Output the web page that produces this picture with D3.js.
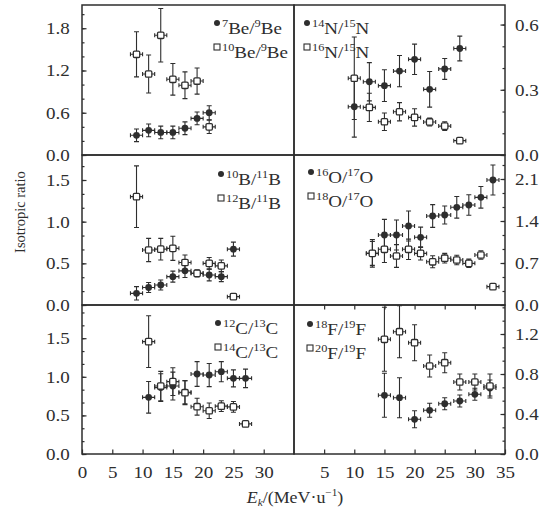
<!DOCTYPE html>
<html>
<head>
<meta charset="utf-8">
<script src="https://cdn.jsdelivr.net/npm/d3@7/dist/d3.min.js"></script>
<style>
body { margin: 0; background: #fff; }
svg, svg text { font-family: 'Liberation Serif', serif; }
</style>
</head>
<body>
<svg id="chart" width="551" height="508"></svg>
<script>
// beam energies (MeV/u) and ratios
var E_BE = [9, 11, 13, 15, 17, 19, 21];
var BE7 = [0.28, 0.35, 0.32, 0.32, 0.38, 0.52, 0.60];
var BE7_ERR = [0.09, 0.09, 0.09, 0.09, 0.09, 0.09, 0.10];
var BE10 = [1.43, 1.15, 1.70, 1.075, 0.99, 1.05, 0.40];
var BE10_ERR = [0.32, 0.27, 0.38, 0.225, 0.19, 0.185, 0.095];

var E_N = [10, 12.5, 15, 17.5, 20, 22.5, 25, 27.5];
var N14 = [0.222, 0.337, 0.319, 0.386, 0.44, 0.302, 0.396, 0.49];
var N14_ERR = [0.14, 0.088, 0.073, 0.072, 0.07, 0.082, 0.048, 0.057];
var N16 = [0.353, 0.219, 0.153, 0.199, 0.173, 0.152, 0.133, 0.066];
var N16_ERR = [0.19, 0.065, 0.04, 0.042, 0.04, 0.018, 0.02, 0.01];

var E_B = [9, 11, 13, 15, 17, 19, 21, 23, 25];
var B10 = [0.14, 0.21, 0.24, 0.34, 0.41, 0.38, 0.36, 0.34, 0.67];
var B10_ERR = [0.08, 0.06, 0.06, 0.066, 0.08, 0.04, 0.07, 0.06, 0.084];
var B12 = [1.30, 0.66, 0.67, 0.68, 0.51, 0.38, 0.50, 0.47, 0.10];
var B12_ERR = [0.37, 0.14, 0.13, 0.145, 0.09, 0.04, 0.07, 0.07, 0.012];

var E_O = [13, 15, 17, 19, 21, 23, 25, 27, 29, 31, 33];
var O16 = [0.86, 1.167, 1.167, 1.317, 1.128, 1.483, 1.50, 1.628, 1.667, 1.794, 2.083];
var O16_ERR = [0.2, 0.26, 0.25, 0.25, 0.17, 0.19, 0.15, 0.18, 0.17, 0.18, 0.25];
var O18 = [0.861, 0.928, 0.817, 0.928, 0.86, 0.72, 0.78, 0.75, 0.694, 0.833, 0.306];
var O18_ERR = [0.23, 0.22, 0.19, 0.17, 0.11, 0.1, 0.08, 0.08, 0.07, 0.07, 0.03];

var E_C = [11, 13, 15, 17, 19, 21, 23, 25, 27];
var C12 = [0.734, 0.86, 0.88, 0.80, 1.036, 1.023, 1.066, 0.98, 0.98];
var C12_ERR = [0.205, 0.18, 0.18, 0.15, 0.16, 0.15, 0.13, 0.11, 0.12];
var C14 = [1.455, 0.88, 0.937, 0.794, 0.613, 0.56, 0.62, 0.61, 0.39];
var C14_ERR = [0.335, 0.19, 0.18, 0.155, 0.11, 0.1, 0.07, 0.07, 0.03];

var E_F = [15, 17.5, 20, 22.5, 25, 27.5, 30, 32.5];
var F18 = [0.587, 0.563, 0.347, 0.437, 0.503, 0.53, 0.597, 0.66];
var F18_ERR = [0.22, 0.2, 0.085, 0.07, 0.06, 0.06, 0.06, 0.08];
var F20 = [1.147, 1.223, 1.113, 0.88, 0.913, 0.72, 0.72, 0.68];
var F20_ERR = [0.32, 0.26, 0.18, 0.11, 0.1, 0.08, 0.08, 0.12];

var X_ERR = 1;

// tick labels
var X_TICKS_LEFT = [0, 5, 10, 15, 20, 25, 30];
var X_TICKS_RIGHT = [5, 10, 15, 20, 25, 30, 35];
var BE_TICKS = [0, 0.6, 1.2, 1.8];
var N_TICKS = [0, 0.3, 0.6];
var B_TICKS = [0, 0.5, 1.0, 1.5];
var O_TICKS = [0, 0.7, 1.4, 2.1];
var C_TICKS = [0, 0.5, 1.0, 1.5];
var F_TICKS = [0, 0.4, 0.8, 1.2];

// legend labels: [mass, element, mass, element]
var LBL_BE7 = ["7", "Be/", "9", "Be"], LBL_BE10 = ["10", "Be/", "9", "Be"];
var LBL_N14 = ["14", "N/", "15", "N"], LBL_N16 = ["16", "N/", "15", "N"];
var LBL_B10 = ["10", "B/", "11", "B"], LBL_B12 = ["12", "B/", "11", "B"];
var LBL_O16 = ["16", "O/", "17", "O"], LBL_O18 = ["18", "O/", "17", "O"];
var LBL_C12 = ["12", "C/", "13", "C"], LBL_C14 = ["14", "C/", "13", "C"];
var LBL_F18 = ["18", "F/", "19", "F"], LBL_F20 = ["20", "F/", "19", "F"];

var INK = "#2e2e2e";
var FONT = "'Liberation Serif', serif";
var FS = 17, SX = 1.12;
var COLS = [[82, 294], [294, 505]];
var ROWS = [[5, 155], [155, 305], [305, 454]];

var panels = [
  {col: 0, row: 0, ymax: 2.13, ticks: BE_TICKS, ex: E_BE, f: BE7, fe: BE7_ERR, o: BE10, oe: BE10_ERR, names: [LBL_BE7, LBL_BE10], leg: [217, 23]},
  {col: 1, row: 0, ymax: 0.69, ticks: N_TICKS, ex: E_N, f: N14, fe: N14_ERR, o: N16, oe: N16_ERR, names: [LBL_N14, LBL_N16], leg: [307, 23]},
  {col: 0, row: 1, ymax: 1.8, ticks: B_TICKS, ex: E_B, f: B10, fe: B10_ERR, o: B12, oe: B12_ERR, names: [LBL_B10, LBL_B12], leg: [221, 174]},
  {col: 1, row: 1, ymax: 2.5, ticks: O_TICKS, ex: E_O, f: O16, fe: O16_ERR, o: O18, oe: O18_ERR, names: [LBL_O16, LBL_O18], leg: [311, 172]},
  {col: 0, row: 2, ymax: 1.93, ticks: C_TICKS, ex: E_C, f: C12, fe: C12_ERR, o: C14, oe: C14_ERR, names: [LBL_C12, LBL_C14], leg: [218, 323]},
  {col: 1, row: 2, ymax: 1.49, ticks: F_TICKS, ex: E_F, f: F18, fe: F18_ERR, o: F20, oe: F20_ERR, names: [LBL_F18, LBL_F20], leg: [310, 324], topTicks: true}
];

var svg = d3.select("#chart").attr("font-family", FONT);

panels.forEach(function(p) {
  var cx = COLS[p.col], ry = ROWS[p.row];
  var x = d3.scaleLinear().domain([0, 35]).range(cx);
  var y = d3.scaleLinear().domain([0, p.ymax]).range([ry[1], ry[0]]);
  var g = svg.append("g");

  // y axis, major + minor ticks pointing inward
  var major = p.ticks[1] - p.ticks[0];
  var minorVals = d3.range(0, p.ymax, major / 3);
  var yAxis = p.col === 0 ? d3.axisLeft(y) : d3.axisRight(y);
  var yMinor = p.col === 0 ? d3.axisLeft(y) : d3.axisRight(y);
  var ax = p.col === 0 ? cx[0] : cx[1];

  g.append("g")
    .attr("transform", "translate(" + ax + ",0)")
    .call(yMinor.tickValues(minorVals).tickSize(-2.5).tickFormat(""))
    .call(styleAxis);

  g.append("g")
    .attr("transform", "translate(" + ax + ",0)")
    .call(yAxis.tickValues(p.ticks).tickSize(-4.5).tickPadding(p.col === 0 ? 11 : 9).tickFormat(d3.format(".1f")))
    .call(styleAxis);

  if (p.row === 2) {
    g.append("g")
      .attr("transform", "translate(0," + ry[1] + ")")
      .call(d3.axisBottom(x).tickValues(p.col === 0 ? X_TICKS_LEFT : X_TICKS_RIGHT)
        .tickSize(-4.5).tickPadding(12).tickFormat(d3.format("d")))
      .call(styleAxis);
  }
  if (p.topTicks) {
    g.append("g")
      .attr("transform", "translate(0," + ry[0] + ")")
      .call(d3.axisTop(x).tickValues(X_TICKS_RIGHT.slice(0, 6)).tickSize(-4.5).tickFormat(""))
      .call(styleAxis);
  }

  g.append("rect")
    .attr("x", cx[0]).attr("y", ry[0])
    .attr("width", cx[1] - cx[0]).attr("height", ry[1] - ry[0])
    .attr("fill", "none").attr("stroke", INK).attr("stroke-width", 1.5);

  drawSeries(g, x, y, p.ex, p.f, p.fe, "filled");
  drawSeries(g, x, y, p.ex, p.o, p.oe, "open");

  // legend
  p.names.forEach(function(nm, i) {
    var my = p.leg[1] + i * 24;
    if (i === 0) {
      g.append("circle").attr("cx", p.leg[0]).attr("cy", my).attr("r", 3).attr("fill", INK);
    } else {
      g.append("rect").attr("x", p.leg[0] - 3).attr("y", my - 3).attr("width", 6).attr("height", 6)
        .attr("fill", "#fff").attr("stroke", INK).attr("stroke-width", 1.1);
    }
    var t = g.append("g")
      .attr("transform", "translate(" + (p.leg[0] + 5) + "," + (my + 11) + ") scale(" + SX + ",1)")
      .append("text").attr("fill", INK).attr("font-family", FONT).attr("font-size", FS);
    t.append("tspan").attr("font-size", 11).attr("dy", -7).text(nm[0]);
    t.append("tspan").attr("dy", 7).text(nm[1]);
    t.append("tspan").attr("font-size", 11).attr("dy", -7).text(nm[2]);
    t.append("tspan").attr("dy", 7).text(nm[3]);
  });
});

function styleAxis(g) {
  g.select(".domain").remove();
  g.attr("color", INK).attr("font-family", FONT).attr("font-size", FS);
  g.selectAll("line").attr("stroke-width", 1.2);
  g.selectAll("text").attr("fill", INK).attr("transform", "scale(" + SX + ",1)");
}

function drawSeries(g, x, y, xs, ys, es, kind) {
  var pts = xs.map(function(d, i) { return {e: d, v: ys[i], err: es[i]}; });
  var bars = g.append("g").attr("stroke", INK).attr("stroke-width", 1.1).attr("fill", "none");
  bars.selectAll("path")
    .data(pts)
    .enter()
    .append("path")
    .attr("d", function(d) {
      var px = x(d.e), py = y(d.v), t = y(d.v + d.err), b = y(Math.max(0, d.v - d.err));
      var l = x(d.e - X_ERR), r = x(d.e + X_ERR);
      return "M" + px + "," + t + "V" + b +
        "M" + (px - 2.5) + "," + t + "h5M" + (px - 2.5) + "," + b + "h5" +
        "M" + l + "," + py + "H" + r +
        "M" + l + "," + (py - 2) + "v4M" + r + "," + (py - 2) + "v4";
    });

  if (kind === "filled") {
    g.append("g").selectAll("circle")
      .data(pts)
      .enter()
      .append("circle")
      .attr("cx", function(d) { return x(d.e); })
      .attr("cy", function(d) { return y(d.v); })
      .attr("r", 3.4)
      .attr("fill", INK);
  } else {
    g.append("g").selectAll("rect")
      .data(pts)
      .enter()
      .append("rect")
      .attr("x", function(d) { return x(d.e) - 3.2; })
      .attr("y", function(d) { return y(d.v) - 3.2; })
      .attr("width", 6.4).attr("height", 6.4).attr("rx", 1.2)
      .attr("fill", "#fff").attr("stroke", INK).attr("stroke-width", 1.3);
  }
}

// axis titles
svg.append("text")
  .attr("transform", "translate(25,212) rotate(-90)")
  .attr("text-anchor", "middle")
  .attr("font-family", FONT)
  .attr("font-size", 14.5)
  .attr("fill", INK)
  .text("Isotropic ratio");

var xt = svg.append("g")
  .attr("transform", "translate(295,503) scale(" + SX + ",1)")
  .append("text")
  .attr("text-anchor", "middle")
  .attr("font-family", FONT)
  .attr("font-size", 16)
  .attr("fill", INK);
xt.append("tspan").attr("font-style", "italic").text("E");
xt.append("tspan").attr("font-style", "italic").attr("font-size", 10).attr("dy", 3).text("k");
xt.append("tspan").attr("dy", -3).text("/(MeV·u");
xt.append("tspan").attr("font-size", 10).attr("dy", -7).text("−1");
xt.append("tspan").attr("dy", 7).text(")");
</script>
</body>
</html>
